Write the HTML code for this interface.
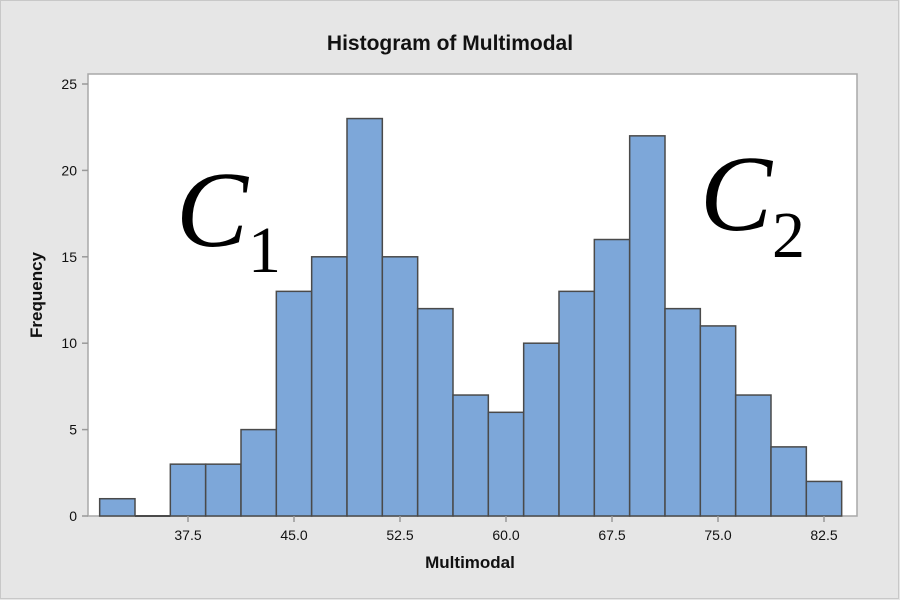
<!DOCTYPE html>
<html><head><meta charset="utf-8"><style>
body{margin:0;background:#e6e6e6;}
svg{display:block;font-family:"Liberation Sans",sans-serif;}
</style></head><body>
<svg id="chart" width="900" height="600">
<rect x="0.5" y="0.5" width="898" height="598" fill="#e6e6e6" stroke="#c8c8c8"/>
<text x="450" y="50" text-anchor="middle" font-size="21" font-weight="bold" fill="#111">Histogram of Multimodal</text>
<rect x="88" y="74" width="769" height="442" fill="#fff" stroke="#a8a8a8" stroke-width="1.5"/>
<g id="bars"></g>
<g id="axes"></g>
<text x="470" y="568" text-anchor="middle" font-size="17" font-weight="bold" fill="#111">Multimodal</text>
<text transform="translate(42,295) rotate(-90)" text-anchor="middle" font-size="17" font-weight="bold" fill="#111">Frequency</text>
<text x="176" y="246" font-family="Liberation Serif,serif" font-style="italic" font-size="108" fill="#000">C<tspan font-style="normal" font-size="66" dy="26">1</tspan></text>
<text x="700" y="230" font-family="Liberation Serif,serif" font-style="italic" font-size="108" fill="#000">C<tspan font-style="normal" font-size="66" dy="27">2</tspan></text>
</svg>
<script>
const binCenters=[32.5,35,37.5,40,42.5,45,47.5,50,52.5,55,57.5,60,62.5,65,67.5,70,72.5,75,77.5,80,82.5];
const counts=[1,0,3,3,5,13,15,23,15,12,7,6,10,13,16,22,12,11,7,4,2];
const xTicks=[37.5,45.0,52.5,60.0,67.5,75.0,82.5];
const yTicks=[0,5,10,15,20,25];
const binWidth=2.5;
const NS="http://www.w3.org/2000/svg";
const xs=v=>188+(v-37.5)*(106/7.5);
const ys=v=>516-v*(432/25);
const bars=document.getElementById('bars');
binCenters.forEach((c,i)=>{
  const x0=xs(c-binWidth/2),x1=xs(c+binWidth/2);
  if(counts[i]===0){
    const l=document.createElementNS(NS,'line');
    l.setAttribute('x1',x0);l.setAttribute('x2',x1);l.setAttribute('y1',ys(0));l.setAttribute('y2',ys(0));
    l.setAttribute('stroke','#4a4a4a');l.setAttribute('stroke-width','2');
    
    
    bars.appendChild(l);
    return;
  }
  const r=document.createElementNS(NS,'rect');
  r.setAttribute('x',x0);r.setAttribute('width',x1-x0);
  r.setAttribute('y',ys(counts[i]));r.setAttribute('height',ys(0)-ys(counts[i]));
  r.setAttribute('fill','#7da7d9');r.setAttribute('stroke','#4a4a4a');r.setAttribute('stroke-width','1.5');
  
  
  bars.appendChild(r);
});
const axes=document.getElementById('axes');
function line(x1,y1,x2,y2){const l=document.createElementNS(NS,'line');l.setAttribute('x1',x1);l.setAttribute('y1',y1);l.setAttribute('x2',x2);l.setAttribute('y2',y2);l.setAttribute('stroke','#999');l.setAttribute('stroke-width','1.5');axes.appendChild(l);return l;}
function text(x,y,s,anchor){const t=document.createElementNS(NS,'text');t.setAttribute('x',x);t.setAttribute('y',y);t.setAttribute('text-anchor',anchor);t.setAttribute('font-size','14');t.setAttribute('fill','#111');t.textContent=s;axes.appendChild(t);return t;}
xTicks.forEach(v=>{
  line(xs(v),516,xs(v),522);
  const t=text(xs(v),540,v.toFixed(1),'middle');
  
  
});
yTicks.forEach(v=>{
  line(82,ys(v),88,ys(v));
  const t=text(77,ys(v)+5,String(v),'end');
  
  
});
</script>
</body></html>
